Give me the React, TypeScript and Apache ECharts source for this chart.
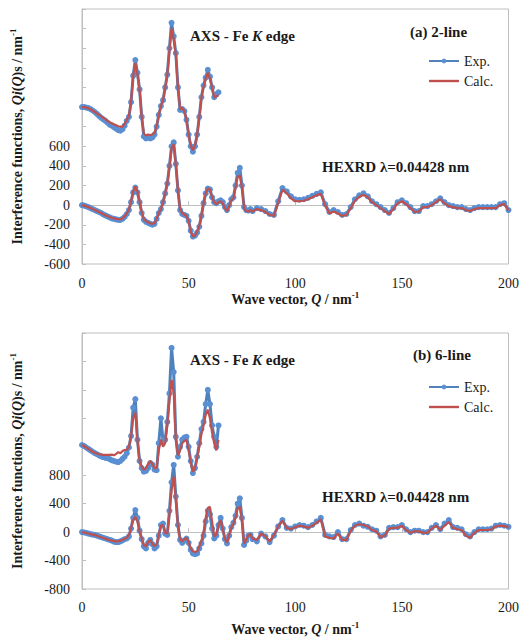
import React, { useEffect, useRef } from "react";
import * as echarts from "echarts";

const FONT = '"Liberation Serif", "Times New Roman", serif';

// Q grids (nm^-1)
const qAxs = [0,1,2,3,4,5,6,7,8,9,10,11,12,13,14,15,16,17,18,19,20,21,22,23,24,25,26,27,28,29,30,31,32,33,34,35,36,37,38,39,40,41,42,43,44,45,46,47,48,49,50,51,52,53,54,55,56,57,58,59,60,61,62,63,64];
const qHex = [0,1,2,3,4,5,6,7,8,9,10,11,12,13,14,15,16,17,18,19,20,21,22,23,24,25,26,27,28,29,30,31,32,33,34,35,36,37,38,39,40,41,42,43,44,45,46,47,48,49,50,51,52,53,54,55,56,57,58,59,60,61,62,63,64,65,66,67,68,69,70,71,72,73,74,75,76,77,78,79,80,
  82,84,86,88,90,92,94,96,98,100,102,104,106,108,110,112,114,116,118,120,122,124,126,128,130,132,134,136,138,140,142,144,146,148,150,152,154,156,158,160,162,164,166,168,170,172,174,176,178,180,182,184,186,188,190,192,194,196,198,200];

// (a) 2-line
const aAxsExp = [1000,1000,995,990,980,965,950,930,910,890,
  875,860,840,820,810,795,780,765,760,775,
  810,860,900,1050,1320,1480,1350,1180,900,700,
  680,690,680,690,720,800,920,1010,1070,1200,
  1330,1600,1860,1720,1550,1200,970,980,960,870,
  720,600,545,600,720,900,1100,1220,1300,1380,
  1310,1200,1100,1130,1150];
const aAxsCalc = [1000,1000,995,988,978,965,950,935,920,905,
  890,875,860,845,835,825,815,805,800,800,
  830,870,910,1060,1320,1450,1330,1170,900,730,
  710,720,715,720,740,810,920,1010,1070,1200,
  1330,1580,1800,1690,1530,1200,980,990,960,870,
  720,610,560,610,720,900,1100,1210,1290,1350,
  1290,1200,1100,1110,1120];
const aHexExp = [0,-5,-12,-20,-30,-40,-50,-60,-70,-80,
  -95,-105,-115,-125,-135,-140,-145,-150,-150,-140,
  -120,-90,-50,30,130,180,130,30,-80,-150,
  -170,-180,-190,-200,-190,-140,-80,-40,30,120,
  220,400,600,640,420,150,-50,-90,-100,-110,
  -160,-260,-320,-310,-280,-220,-110,20,120,170,
  160,80,30,20,40,50,30,-20,-50,0,
  60,80,200,330,380,200,-20,-50,-55,-40,-60,
  -30,-40,-60,-90,-100,40,175,140,90,60,
  55,60,75,95,115,130,10,-70,-50,-70,
  -100,-90,-20,60,100,120,90,40,10,-20,
  -50,-80,-30,30,50,20,-20,-60,-60,-10,
  -10,10,40,70,30,0,-10,-20,-20,-40,
  -50,-30,-20,-20,-20,-20,-20,10,20,-50];
const aHexCalc = [0,-5,-12,-20,-30,-40,-50,-60,-70,-80,
  -92,-102,-112,-120,-128,-135,-140,-143,-145,-135,
  -115,-85,-45,40,140,190,140,40,-70,-140,
  -165,-175,-185,-190,-185,-140,-80,-40,30,120,
  220,390,580,620,410,150,-40,-80,-95,-110,
  -160,-270,-320,-310,-270,-210,-100,20,120,170,
  160,80,30,10,30,40,20,-30,-60,-10,
  50,70,180,290,300,180,-30,-60,-65,-50,-65,
  -40,-50,-70,-100,-110,20,160,120,70,40,
  40,45,60,80,100,115,-5,-85,-65,-85,
  -110,-100,-30,45,85,105,80,30,0,-30,
  -60,-90,-40,20,40,10,-30,-70,-65,-20,
  -20,0,30,60,20,-10,-20,-30,-30,-50,
  -60,-40,-30,-30,-30,-30,-30,0,10,-55];

// (b) 6-line
const bAxsExp = [1225,1210,1190,1170,1150,1130,1112,1095,1080,1065,
  1055,1045,1040,1025,1010,1000,990,985,1000,1030,
  1060,1110,1190,1350,1750,1870,1300,1000,900,850,
  860,900,970,950,880,870,1250,1600,1280,1300,
  1550,1950,2590,2250,1340,1060,1200,1300,1330,1340,
  1200,1000,830,900,1060,1250,1450,1550,1800,2000,
  1800,1500,1340,1200,1500];
const bAxsCalc = [1225,1210,1190,1170,1150,1130,1115,1105,1095,1090,
  1085,1085,1085,1085,1090,1080,1100,1125,1110,1140,
  1155,1160,1200,1350,1600,1680,1300,1000,920,880,
  900,960,1000,960,900,900,1150,1300,1200,1250,
  1500,1850,2140,1950,1300,1080,1150,1250,1280,1300,
  1150,980,850,900,1050,1200,1380,1500,1650,1720,
  1600,1400,1250,1150,1300];
const bHexExp = [0,-5,-12,-20,-28,-35,-40,-50,-60,-70,
  -80,-90,-100,-110,-120,-135,-140,-140,-130,-115,
  -100,-90,-60,50,200,310,200,20,-100,-200,
  -230,-150,-110,-170,-230,-200,-50,100,120,-20,
  -40,300,700,945,500,100,-110,-150,-120,-90,
  -150,-250,-300,-310,-300,-230,-160,-50,150,300,
  250,50,-90,-50,100,200,50,-100,-160,-50,
  70,130,230,400,475,200,-180,-120,-50,-40,-100,
  -130,-20,-60,-140,-50,80,170,60,50,80,
  100,90,70,100,150,200,-40,-60,-70,0,
  -100,-100,30,100,120,90,75,40,20,-60,
  -40,60,70,70,100,40,0,20,20,0,
  0,60,100,40,120,170,70,60,40,-30,
  -60,0,40,40,40,50,90,100,90,75];
const bHexCalc = [0,-5,-12,-20,-28,-35,-42,-52,-62,-72,
  -82,-92,-102,-112,-120,-128,-130,-128,-120,-110,
  -95,-80,-40,60,170,215,150,10,-90,-180,
  -200,-140,-110,-160,-200,-170,-40,90,100,-10,
  -20,250,600,780,450,80,-100,-130,-100,-80,
  -140,-230,-270,-280,-270,-200,-120,0,200,340,
  356,150,-60,-30,90,170,40,-90,-150,-40,
  60,120,200,330,355,150,-160,-110,-40,-30,-90,
  -110,-20,-60,-130,-40,80,160,60,40,70,
  90,80,60,90,130,180,-60,-80,-90,-20,
  -110,-110,20,90,110,100,80,30,10,-70,
  -50,50,60,60,90,30,-10,10,10,-10,
  -10,50,90,30,90,140,60,40,30,-50,
  -80,-10,30,30,30,40,80,90,85,70];

const xTicks = { min: 0, max: 200, interval: 50 };
const yA = { min: -600, max: 2000, interval: 200, labelMax: 600 };
const yB = { min: -800, max: 2800, interval: 400, labelMax: 800 };

const BLUE = "#4f81bd";
const BLUE_MK = "#5a8fd2";
const RED = "#c0504d";
const GRAY = "#bfbfbf";
const TXT = "#1a1a1a";

const pairs = (q: number[], v: number[]) => q.map((x, i) => [x, v[i]]);

const titleRich = {
  b: { fontFamily: FONT, fontSize: 14, fontWeight: "bold", color: TXT, lineHeight: 18 },
  bi: { fontFamily: FONT, fontSize: 14, fontWeight: "bold", fontStyle: "italic", color: TXT, lineHeight: 18 },
  sup: { fontFamily: FONT, fontSize: 9, fontWeight: "bold", color: TXT, verticalAlign: "top", lineHeight: 18 },
};
const annRich = {
  b: { fontFamily: FONT, fontSize: 15, fontWeight: "bold", fill: TXT, color: TXT },
  bi: { fontFamily: FONT, fontSize: 15, fontWeight: "bold", fontStyle: "italic", fill: TXT, color: TXT },
};

function xAxisCfg(gridIndex: number, gap: number, margin: number) {
  return {
    type: "value",
    gridIndex,
    ...xTicks,
    axisLine: { show: true, lineStyle: { color: GRAY, width: 1 } },
    axisTick: { show: true, inside: true, length: 4, lineStyle: { color: GRAY } },
    splitLine: { show: false },
    axisLabel: { fontFamily: FONT, fontSize: 14, color: TXT, margin },
    name: "{b|Wave vector, }{bi|Q}{b| / nm}{sup|-1}",
    nameLocation: "middle",
    nameGap: gap,
    nameTextStyle: { rich: titleRich },
  };
}
function yAxisCfg(gridIndex: number, cfg: any) {
  return {
    type: "value",
    gridIndex,
    min: cfg.min,
    max: cfg.max,
    interval: cfg.interval,
    axisLine: { show: true, lineStyle: { color: GRAY, width: 1 } },
    axisTick: { show: true, inside: true, length: 4, lineStyle: { color: GRAY } },
    splitLine: { show: false },
    axisLabel: {
      fontFamily: FONT, fontSize: 14, color: TXT, margin: 12,
      formatter: (v: number) => (v <= cfg.labelMax ? String(v) : ""),
    },
    name: "{b|Interference functions, }{bi|Qi}{b|(}{bi|Q}{b|)s / nm}{sup|-1}",
    nameLocation: "middle",
    nameRotate: 90,
    nameGap: 56,
    nameTextStyle: { rich: titleRich },
  };
}
function expSeries(ax: number, data: number[][]) {
  return {
    type: "line", name: "Exp.", xAxisIndex: ax, yAxisIndex: ax, data,
    symbol: "circle", symbolSize: 6, showSymbol: true,
    lineStyle: { color: BLUE, width: 3 },
    itemStyle: { color: BLUE_MK },
    z: 2,
  };
}
function calcSeries(ax: number, data: number[][]) {
  return {
    type: "line", name: "Calc.", xAxisIndex: ax, yAxisIndex: ax, data,
    symbol: "none", showSymbol: false,
    lineStyle: { color: RED, width: 2.2 },
    itemStyle: { color: RED },
    z: 3,
  };
}
function legendCfg(top: number) {
  return {
    left: 428, top, orient: "vertical", itemWidth: 30, itemHeight: 6, itemGap: 6, padding: 0,
    textStyle: { fontFamily: FONT, fontSize: 14, color: TXT, lineHeight: 14 },
    data: [
      { name: "Exp.", lineStyle: { width: 2 } },
      { name: "Calc.", icon: "path://M0,0 H30 V2.4 H0 Z" },
    ],
  };
}
function ann(x: number, y: number, text: string) {
  return { type: "text", x, y, style: { text, rich: annRich, align: "left", verticalAlign: "middle", fontFamily: FONT, fontSize: 15, fontWeight: "bold", fill: TXT } };
}

export default function App() {
  const ref = useRef<HTMLDivElement>(null);
  useEffect(() => {
    if (!ref.current) return;
    const chart = echarts.init(ref.current, null, { renderer: "svg" });
    chart.setOption({
      animation: false,
      backgroundColor: "#ffffff",
      grid: [
        { left: 77, top: 9, width: 433, height: 255, show: true, borderColor: GRAY, borderWidth: 1, backgroundColor: "transparent" },
        { left: 77, top: 333, width: 433, height: 256, show: true, borderColor: GRAY, borderWidth: 1, backgroundColor: "transparent" },
      ],
      xAxis: [xAxisCfg(0, 24, 12), xAxisCfg(1, 31, 11)],
      yAxis: [yAxisCfg(0, yA), yAxisCfg(1, yB)],
      legend: [legendCfg(54), legendCfg(380)],
      series: [
        expSeries(0, pairs(qAxs, aAxsExp)),
        expSeries(0, pairs(qHex, aHexExp)),
        calcSeries(0, pairs(qAxs, aAxsCalc)),
        calcSeries(0, pairs(qHex, aHexCalc)),
        expSeries(1, pairs(qAxs, bAxsExp)),
        expSeries(1, pairs(qHex, bHexExp)),
        calcSeries(1, pairs(qAxs, bAxsCalc)),
        calcSeries(1, pairs(qHex, bHexCalc)),
      ],
      graphic: [
        ann(190, 36, "{b|AXS - Fe }{bi|K}{b| edge}"),
        ann(410, 32, "{b|(a) 2-line}"),
        ann(322, 167, "{b|HEXRD λ=0.04428 nm}"),
        ann(190, 360, "{b|AXS - Fe }{bi|K}{b| edge}"),
        ann(413, 355, "{b|(b) 6-line}"),
        ann(322, 497, "{b|HEXRD λ=0.04428 nm}"),
      ],
    });
    return () => chart.dispose();
  }, []);
  return <div ref={ref} style={{ position: "absolute", left: 0, top: 0, width: 522, height: 639, background: "#fff" }} />;
}
